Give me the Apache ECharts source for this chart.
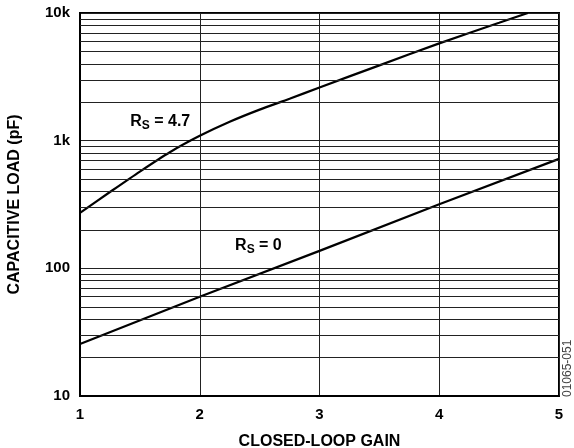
<!DOCTYPE html>
<html>
<head>
<meta charset="utf-8">
<script src="https://cdn.jsdelivr.net/npm/echarts@6/dist/echarts.min.js"></script>
<style>
  html, body { margin: 0; padding: 0; background: #fff; }
  #chart { width: 574px; height: 448px; }
</style>
</head>
<body>
<div id="chart"></div>
<script>
// closed-loop gain vs max capacitive load (pF)
const rs0Gain = [1, 2, 3, 4, 5];
const rs0Load = [25.5, 60, 137, 318, 720];

const rs47Gain = [1, 1.25, 1.5, 1.75, 2, 2.25, 2.5, 2.75, 3, 3.5, 4, 4.5, 4.74];
const rs47Load = [272, 396, 573, 812, 1091, 1406, 1750, 2128, 2610, 3890, 5780, 8375, 10000];

const yTickLabels = { 10: '10', 100: '100', 1000: '1k', 10000: '10k' };
const minorGrid = [20, 30, 40, 50, 60, 70, 80, 90, 200, 300, 400, 500, 600, 700, 800, 900,
  2000, 3000, 4000, 5000, 6000, 7000, 8000, 9000];

const chart = echarts.init(document.getElementById('chart'));

const font = '"Liberation Sans", Arial, sans-serif';
const subRich = {
  a: { fontFamily: font, fontSize: 16, fontWeight: 'bold', color: '#000', lineHeight: 18, verticalAlign: 'top' },
  s: { fontFamily: font, fontSize: 12, fontWeight: 'bold', color: '#000', lineHeight: 18, verticalAlign: 'bottom', padding: [8, 0, 0, 0] }
};

const option = {
  animation: false,
  grid: {
    left: 80, right: 15, top: 13, bottom: 52,
    outerBoundsMode: 'none', containLabel: false,
    show: true, borderColor: '#000', borderWidth: 2
  },
  xAxis: {
    type: 'value', min: 1, max: 5, interval: 1,
    name: 'CLOSED-LOOP GAIN', nameLocation: 'middle', nameGap: 38,
    nameTextStyle: { fontFamily: font, fontSize: 16, fontWeight: 'bold', color: '#000' },
    axisLine: { lineStyle: { color: '#000', width: 2 } },
    axisTick: { show: false },
    axisLabel: { fontFamily: font, fontSize: 15, fontWeight: 'bold', color: '#000', margin: 11 },
    splitLine: { lineStyle: { color: '#222', width: 1 } }
  },
  yAxis: {
    type: 'log', logBase: 10, min: 10, max: 10000,
    name: 'CAPACITIVE LOAD (pF)', nameLocation: 'middle', nameGap: 57,
    nameTextStyle: { fontFamily: font, fontSize: 16, fontWeight: 'bold', color: '#000' },
    axisLine: { lineStyle: { color: '#000', width: 2 } },
    axisTick: { show: false },
    axisLabel: {
      fontFamily: font, fontSize: 15, fontWeight: 'bold', color: '#000', margin: 10,
      formatter: v => yTickLabels[Math.round(v)] || ''
    },
    splitLine: { lineStyle: { color: '#222', width: 1 } }
  },
  series: [
    {
      type: 'line',
      data: rs47Gain.map((g, i) => [g, rs47Load[i]]),
      smooth: 0.25,
      showSymbol: false,
      lineStyle: { color: '#000', width: 2.2 },
      markLine: {
        silent: true, symbol: 'none', label: { show: false },
        lineStyle: { color: '#222', width: 1, type: 'solid' },
        data: minorGrid.map(v => ({ yAxis: v }))
      },
      markPoint: {
        symbolSize: 0,
        label: {
          show: true, formatter: '{a|R}{s|S}{a| = 4.7}', rich: subRich
        },
        data: [{ coord: [1.67, 1380] }]
      }
    },
    {
      type: 'line',
      data: rs0Gain.map((g, i) => [g, rs0Load[i]]),
      showSymbol: false,
      lineStyle: { color: '#000', width: 2.2 },
      markPoint: {
        symbolSize: 0,
        label: {
          show: true, formatter: '{a|R}{s|S}{a| = 0}', rich: subRich
        },
        data: [{ coord: [2.49, 147] }]
      }
    }
  ],
  graphic: [{
    type: 'text', right: 0, bottom: 51, rotation: Math.PI / 2,
    style: { text: '01065-051', fontFamily: font, fontSize: 12, fill: '#444' }
  }]
};

chart.setOption(option);
</script>
</body>
</html>
